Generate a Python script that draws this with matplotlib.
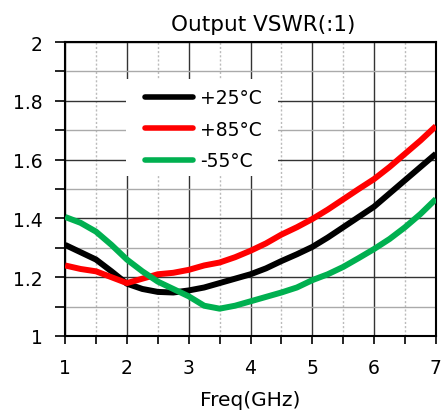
import numpy as np
import matplotlib
matplotlib.use("Agg")
import matplotlib.pyplot as plt
from matplotlib.ticker import MultipleLocator
from matplotlib.patches import Rectangle

# values
freq = [1.0, 1.25, 1.5, 1.75, 2.0, 2.25, 2.5, 2.75, 3.0, 3.25, 3.5, 3.75, 4.0,
        4.25, 4.5, 4.75, 5.0, 5.25, 5.5, 5.75, 6.0, 6.25, 6.5, 6.75, 7.0]
vswr_25 = [1.31, 1.285, 1.26, 1.22, 1.178, 1.16, 1.15, 1.148, 1.155, 1.165, 1.18, 1.195, 1.21,
           1.23, 1.255, 1.278, 1.303, 1.335, 1.37, 1.405, 1.44, 1.485, 1.53, 1.575, 1.62]
vswr_85 = [1.24, 1.228, 1.22, 1.20, 1.18, 1.195, 1.21, 1.215, 1.225, 1.24, 1.25, 1.268, 1.29,
           1.315, 1.345, 1.37, 1.398, 1.43, 1.465, 1.50, 1.534, 1.575, 1.62, 1.665, 1.714]
vswr_m55 = [1.405, 1.385, 1.355, 1.31, 1.26, 1.22, 1.185, 1.16, 1.135, 1.103, 1.093, 1.103, 1.118,
            1.133, 1.148, 1.165, 1.19, 1.21, 1.235, 1.265, 1.296, 1.33, 1.37, 1.415, 1.466]
labels = ["+25\u00b0C", "+85\u00b0C", "-55\u00b0C"]
colors = ["#000000", "#ff0000", "#00b050"]
xticks = [1, 2, 3, 4, 5, 6, 7]
yticks = [1, 1.2, 1.4, 1.6, 1.8, 2]
ytick_labels = ["1", "1.2", "1.4", "1.6", "1.8", "2"]

plt.rcParams['font.family'] = ['DejaVu Sans']

fig = plt.figure(figsize=(4.43, 4.14), dpi=100)
ax = fig.add_axes([0.147, 0.186, 0.837, 0.710])

for vals, lab, col in zip([vswr_25, vswr_85, vswr_m55], labels, colors):
    ax.plot(freq, vals, color=col, lw=4.3, label=lab, solid_capstyle='butt', zorder=3)

ax.set_xlim(1, 7)
ax.set_ylim(1, 2)
ax.set_xticks(xticks)
ax.set_yticks(yticks)
ax.set_yticklabels(ytick_labels)
ax.xaxis.set_minor_locator(MultipleLocator(0.5))
ax.yaxis.set_minor_locator(MultipleLocator(0.1))

ax.grid(which='major', axis='both', color='#333333', lw=1.0)
ax.grid(which='minor', axis='y', color='#aaaaaa', lw=1.0)
ax.grid(which='minor', axis='x', color='#bbbbbb', lw=1.0, ls=(0, (1.5, 1.5)))
ax.set_axisbelow(True)

ax.tick_params(which='both', direction='out', colors='black', labelsize=13.5)
ax.tick_params(axis='y', which='both', length=7, width=1.2, pad=9)
ax.tick_params(axis='x', which='both', length=6, width=1.2, pad=10)
for s in ax.spines.values():
    s.set_linewidth(1.5)

ax.set_xlabel("Freq(GHz)", fontsize=14.5, labelpad=9)
ax.set_title("Output VSWR(:1)", fontsize=15.5, x=0.534, pad=9)

# white box behind the legend hides the grid there
ax.add_patch(Rectangle((0.164, 0.544), 0.41, 0.33, transform=ax.transAxes,
                       facecolor='white', edgecolor='none', zorder=2))
leg = ax.legend(loc='upper left', bbox_to_anchor=(0.2156, 0.842), fontsize=13.5,
                frameon=False, handlelength=2.56, handletextpad=0.37,
                labelspacing=0.66, borderpad=0, borderaxespad=0)
for ln in leg.get_lines():
    ln.set_linewidth(4.0)
    ln.set_solid_capstyle('round')

fig.savefig("out.png", dpi=100)
